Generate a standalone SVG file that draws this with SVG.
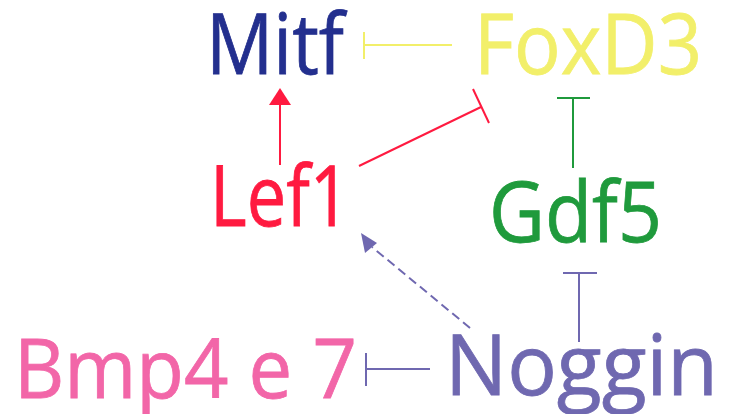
<svg xmlns="http://www.w3.org/2000/svg" width="734" height="414" viewBox="0 0 734 414">
<style>
text{font-family:"Open Sans","Noto Sans",sans-serif;font-size:85px;stroke-width:0.8;}
.ln{fill:none;stroke-width:2;}
</style>
<rect width="734" height="414" fill="#ffffff"/>
<g id="connectors">
  <g stroke="#f2ef6a" class="ln"><line x1="364" y1="45" x2="452" y2="45"/><line x1="364" y1="32" x2="364" y2="59"/></g>
  <line x1="280" y1="165" x2="280" y2="104" stroke="#ff1a40" class="ln"/>
  <path d="M280,88 L269,105 L291,105 z" fill="#ff1a40"/>
  <g stroke="#ff1a40" class="ln"><line x1="359" y1="166" x2="481" y2="107"/><line x1="473" y1="89" x2="489" y2="123"/></g>
  <g stroke="#1f9a3c" class="ln"><line x1="573" y1="168" x2="573" y2="98"/><line x1="557" y1="98" x2="590" y2="98"/></g>
  <g stroke="#6f68b0" class="ln"><line x1="579" y1="342" x2="579" y2="273"/><line x1="563" y1="273" x2="597" y2="273"/></g>
  <g stroke="#6f68b0" class="ln"><line x1="430" y1="369" x2="366" y2="369"/><line x1="366" y1="353" x2="366" y2="386"/></g>
  <line x1="470" y1="328" x2="372" y2="247" stroke="#6f68b0" class="ln" stroke-dasharray="9,5"/>
  <path d="M361,233 L365,253 L377,243 z" fill="#6f68b0"/>
</g>
<g id="Mitf"><text x="206" y="74" fill="#232f8e" stroke="#232f8e" textLength="138" lengthAdjust="spacingAndGlyphs">Mitf</text></g>
<g id="FoxD3"><text x="474" y="74" fill="#f2ef6a" stroke="#f2ef6a" textLength="228" lengthAdjust="spacingAndGlyphs">FoxD3</text></g>
<g id="Lef1"><text x="210" y="226" fill="#ff1a40" stroke="#ff1a40" textLength="140" lengthAdjust="spacingAndGlyphs">Lef1</text></g>
<g id="Gdf5"><text x="489" y="242" fill="#1f9a3c" stroke="#1f9a3c" textLength="173" lengthAdjust="spacingAndGlyphs">Gdf5</text></g>
<g id="Noggin"><text x="445" y="395" fill="#6f68b0" stroke="#6f68b0" textLength="273" lengthAdjust="spacingAndGlyphs">Noggin</text></g>
<g id="Bmp4e7"><text x="14" y="398" fill="#f266a8" stroke="#f266a8" textLength="343" lengthAdjust="spacingAndGlyphs" style="font-size:82px">Bmp4 e 7</text></g>
</svg>
